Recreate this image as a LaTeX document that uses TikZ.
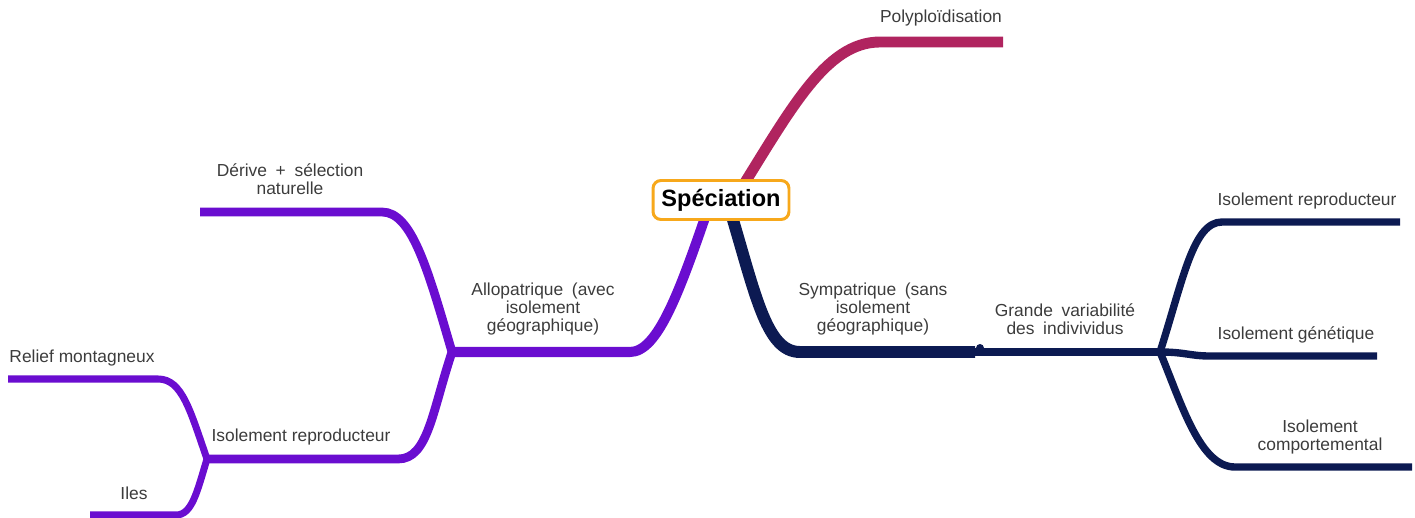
\documentclass[tikz,border=0pt]{standalone}
\usepackage{fontspec}
\setmainfont{Liberation Sans}
\usetikzlibrary{calc,backgrounds}
\definecolor{pinkbr}{HTML}{B0245F}
\definecolor{purplebr}{HTML}{6A0DD0}
\definecolor{navybr}{HTML}{0C1A52}
\definecolor{rootedge}{HTML}{F7A81B}
\definecolor{txt}{HTML}{3C3C3C}

\begin{document}
\begin{tikzpicture}[x=0.02cm, y=-0.02cm,
  every node/.style = {align=center, inner sep=0pt, text=txt,
    font=\fontsize{9.9}{10.4}\selectfont},
  root/.style = {draw=rootedge, line width=1.7pt, rounded corners=4.5pt,
    fill=white, text=black, font=\bfseries\fontsize{13.4}{15}\selectfont,
    minimum width=2.72cm, minimum height=0.78cm},
  pinkbranch/.style = {draw=pinkbr, line width=6.2pt},
  allomain/.style = {draw=purplebr, line width=5.7pt},
  allosub/.style = {draw=purplebr, line width=5pt},
  allotip/.style = {draw=purplebr, line width=4pt},
  symmain/.style = {draw=navybr, line width=6.8pt},
  symsub/.style = {draw=navybr, line width=4.8pt},
  symtip/.style = {draw=navybr, line width=4.2pt}]
  \useasboundingbox (0,0) rectangle (1415,517);

  \node[root] (spec) at (721,200) {Spéciation};
  \node (poly) at (941,18) {Polyploïdisation};
  \node (derive) at (290,179) {Dérive\enspace+\enspace sélection\\naturelle};
  \node (allo) at (543,309) {Allopatrique\enspace(avec\\isolement\\géographique)};
  \node (isorep) at (301,437) {Isolement reproducteur};
  \node (relief) at (82,358) {Relief montagneux};
  \node (iles) at (134,493) {Iles};
  \node (sym) at (873,309) {Sympatrique\enspace(sans\\isolement\\géographique)};
  \node (grande) at (1065,319) {Grande\enspace variabilité\\des\enspace indivividus};
  \node (rep) at (1307,201) {Isolement reproducteur};
  \node (gen) at (1296,335) {Isolement génétique};
  \node (comp) at (1320,437) {Isolement\\comportemental};

  \coordinate (poly-c) at (880,42);   \coordinate (poly-e) at (1003,42);
  \coordinate (allo-c) at (630,352);  \coordinate (allo-j) at (452,352);
  \coordinate (der-c) at (382,212);   \coordinate (der-e) at (200,212);
  \coordinate (iso-c) at (398,459);   \coordinate (iso-j) at (207,459);
  \coordinate (rel-c) at (158,379);   \coordinate (rel-e) at (8,379);
  \coordinate (iles-c) at (176,515);  \coordinate (iles-e) at (90,515);
  \coordinate (sym-c) at (800,352);   \coordinate (sym-j) at (975,352);
  \coordinate (knot) at (980,348);    \coordinate (gv-j) at (1160,352);
  \coordinate (rep-c) at (1222,222);  \coordinate (rep-e) at (1400,222);
  \coordinate (gen-c) at (1210,356);  \coordinate (gen-e) at (1377,356);
  \coordinate (comp-c) at (1235,467); \coordinate (comp-e) at (1412,467);

  \begin{pgfonlayer}{background}
    \draw[pinkbranch] ($(spec.center)+(13,0)$) .. controls +(56,-89) and +(-55,0) .. (poly-c) -- (poly-e);
    \draw[allomain] ($(spec.center)+(-10,0)$) .. controls +(-31,91) and +(28,0) .. (allo-c) -- (allo-j);
    \draw[allosub] (allo-j) .. controls +(-24,-82) and +(30,0) .. (der-c) -- (der-e);
    \draw[allosub] (allo-j) .. controls +(-20,60) and +(30,0) .. (iso-c) -- (iso-j);
    \draw[allotip] (iso-j) .. controls +(-17,-49) and +(24,0) .. (rel-c) -- (rel-e);
    \draw[allotip] (iso-j) .. controls +(-10,33) and +(16,0) .. (iles-c) -- (iles-e);
    \draw[symmain] ($(spec.center)+(6,0)$) .. controls +(28,91) and +(-35,0) .. (sym-c) -- (sym-j);
    \fill[navybr] (knot) circle [radius=0.08cm];
    \draw[symsub] (sym-j) -- (gv-j);
    \draw[symtip] (gv-j) .. controls +(23,-72) and +(-29,0) .. (rep-c) -- (rep-e);
    \draw[symtip] (gv-j) .. controls +(25,0) and +(-20,0) .. (gen-c) -- (gen-e);
    \draw[symtip] (gv-j) .. controls +(22,53) and +(-35,0) .. (comp-c) -- (comp-e);
  \end{pgfonlayer}
\end{tikzpicture}
\end{document}
